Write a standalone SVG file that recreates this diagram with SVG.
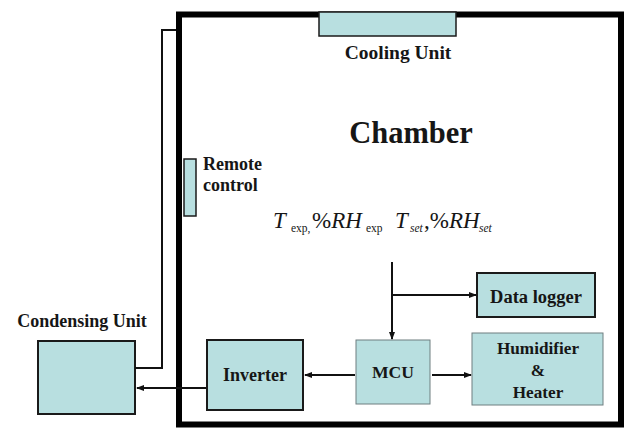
<svg xmlns="http://www.w3.org/2000/svg" width="628" height="429" viewBox="0 0 628 429" font-family="'Liberation Serif', 'Times New Roman', serif">
<defs>
<style>
.box{fill:#b8dfe0;stroke:#1a1a1a;stroke-width:2}
.thin{stroke:#6f7f80;stroke-width:1}
.mid{stroke-width:1.5}
.lbl{font-weight:bold;fill:#161616;font-size:18px}
.ln{fill:none;stroke:#111;stroke-width:2}
.f{fill:#161616;font-size:23px}
.s{font-size:11.5px}
</style>
<marker id="ah" markerWidth="8" markerHeight="8" refX="7" refY="4" orient="auto" markerUnits="userSpaceOnUse">
<path d="M0,1 L8,4 L0,7 Z" fill="#111"/>
</marker>
</defs>
<rect width="628" height="429" fill="#fff"/>
<g id="chamber">
<rect x="179" y="14.5" width="442" height="410" fill="none" stroke="#000" stroke-width="6"/>
<text class="lbl" x="411" y="143" text-anchor="middle" style="font-size:30.5px">Chamber</text>
</g>
<g id="cooling">
<rect class="box mid" x="319" y="12" width="137" height="24"/>
<text class="lbl" x="398" y="59" text-anchor="middle" style="font-size:19.5px">Cooling Unit</text>
</g>
<g id="remote">
<rect class="box mid" x="184" y="159" width="12" height="57"/>
<text class="lbl" x="203" y="170">Remote</text>
<text class="lbl" x="203" y="191">control</text>
</g>
<g id="formula">
<text class="f" y="228"><tspan x="273" font-style="italic">T</tspan><tspan class="s" x="291" y="232">exp,</tspan><tspan x="312" y="228">%</tspan><tspan font-style="italic">RH</tspan><tspan class="s" x="366" y="232">exp</tspan><tspan x="395" y="228" font-style="italic">T</tspan><tspan class="s" x="410" y="232" font-style="italic">set</tspan><tspan x="424" y="228">,%</tspan><tspan font-style="italic">RH</tspan><tspan class="s" x="479" y="232" font-style="italic">set</tspan></text>
</g>
<g id="datalogger">
<rect class="box" x="477" y="273" width="118" height="44"/>
<text class="lbl" x="536" y="303" text-anchor="middle" style="font-size:18.5px">Data logger</text>
</g>
<g id="mcu">
<rect class="box thin" x="356" y="340" width="74" height="64"/>
<text class="lbl" x="393" y="378" text-anchor="middle" style="font-size:17.6px">MCU</text>
</g>
<g id="humidifier">
<rect class="box thin" x="472" y="333" width="131" height="72"/>
<text class="lbl" x="538" y="354" text-anchor="middle" style="font-size:17.2px">Humidifier</text>
<text class="lbl" x="538" y="376" text-anchor="middle" style="font-size:17.2px">&amp;</text>
<text class="lbl" x="538" y="398" text-anchor="middle" style="font-size:17.2px">Heater</text>
</g>
<g id="inverter">
<rect class="box" x="207" y="340" width="96" height="70"/>
<text class="lbl" x="255" y="381" text-anchor="middle">Inverter</text>
</g>
<g id="condensing">
<rect class="box" x="38" y="341" width="97" height="73"/>
<text class="lbl" x="82" y="327" text-anchor="middle">Condensing Unit</text>
</g>
<g id="connectors">
<path class="ln" d="M392,262 V339" marker-end="url(#ah)"/>
<path class="ln" d="M392,295 H476" marker-end="url(#ah)"/>
<path class="ln" d="M355,375 H305" marker-end="url(#ah)"/>
<path class="ln" d="M432,375 H471" marker-end="url(#ah)"/>
<path class="ln" d="M206,388 H137" marker-end="url(#ah)"/>
<path class="ln" d="M135,368 H162 V30 H176"/>
</g>
</svg>
